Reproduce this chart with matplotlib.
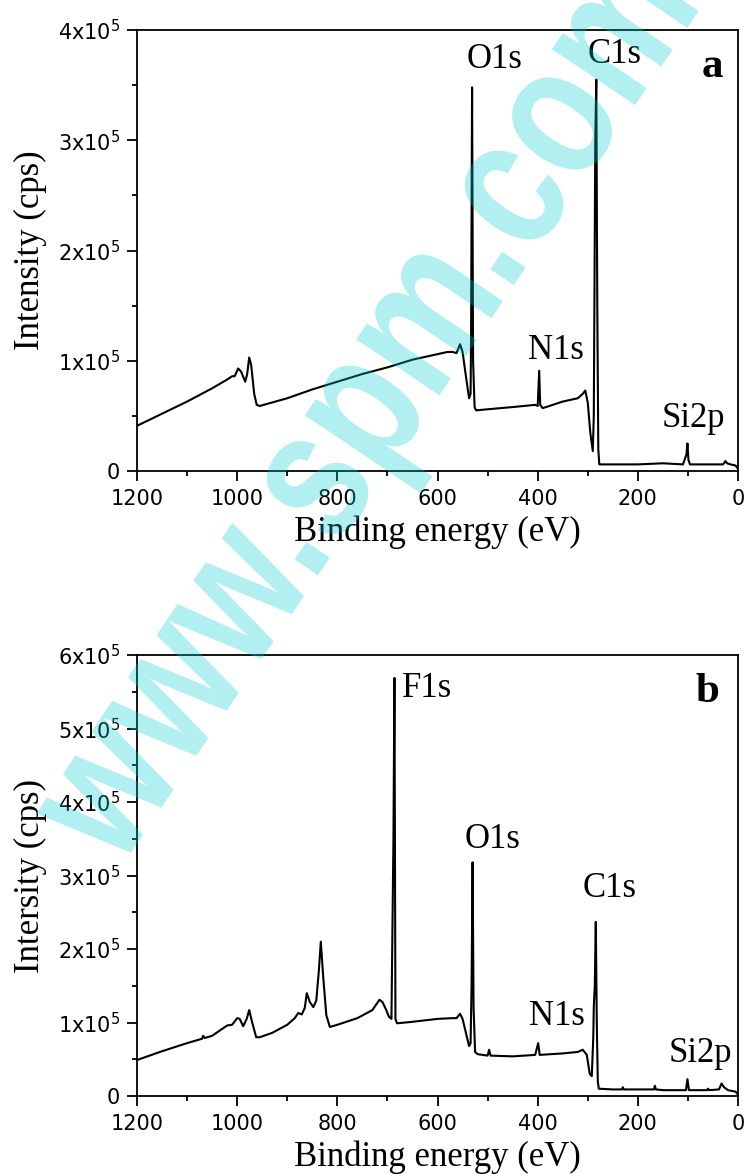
import numpy as np
import matplotlib
matplotlib.use('Agg')
import matplotlib.pyplot as plt
import matplotlib.transforms as mtransforms
from matplotlib.ticker import MultipleLocator, FuncFormatter
from matplotlib.textpath import TextPath, TextToPath
from matplotlib.patches import PathPatch
from matplotlib.font_manager import FontProperties

# survey spectrum (a): binding energy (eV) and intensity (x1e5 cps)
energy_a = [1200, 1150, 1100, 1050, 1020, 1010, 1005, 998, 992, 984, 980, 976, 972, 966, 961, 955,
            900, 850, 800, 750, 700, 650, 600, 580, 570, 562, 555, 550, 543, 537, 534, 533, 531,
            529, 526, 523, 500, 450, 405, 400, 397, 395, 390, 350, 320, 310, 305, 300, 295, 290,
            288, 285, 283, 281, 279, 277, 250, 200, 150, 110, 103, 101, 99, 96, 60, 30, 25, 22,
            15, 5, 0]
inten_a = [0.41, 0.52, 0.63, 0.75, 0.83, 0.86, 0.86, 0.93, 0.90, 0.81, 0.88, 1.03, 0.96, 0.70, 0.60,
           0.59, 0.66, 0.74, 0.81, 0.88, 0.94, 1.01, 1.06, 1.08, 1.08, 1.07, 1.15, 1.08, 0.85, 0.66,
           0.70, 1.20, 3.48, 1.00, 0.58, 0.55, 0.56, 0.58, 0.60, 0.59, 0.91, 0.60, 0.57, 0.63, 0.66,
           0.70, 0.73, 0.62, 0.35, 0.18, 0.50, 3.00, 3.55, 1.50, 0.20, 0.06, 0.06, 0.06, 0.07, 0.06,
           0.15, 0.25, 0.10, 0.06, 0.06, 0.06, 0.09, 0.07, 0.06, 0.05, 0.02]

# survey spectrum (b)
energy_b = [1200, 1150, 1100, 1070, 1068, 1065, 1050, 1020, 1010, 1000, 995, 988, 981, 976, 970,
            962, 955, 930, 900, 885, 878, 871, 865, 861, 855, 848, 842, 837, 833, 828, 822, 815,
            800, 760, 730, 722, 716, 710, 703, 697, 692, 688, 686, 684, 681, 650, 600, 570, 562,
            555, 550, 543, 537, 534, 532, 530, 528, 525, 520, 500, 497, 494, 450, 405, 399, 396,
            350, 320, 310, 302, 296, 292, 289, 288, 286, 284, 282, 280, 278, 250, 232, 230, 228,
            168, 166, 164, 150, 104, 101, 98, 62, 60, 58, 38, 33, 28, 20, 5, 0]
inten_b = [0.49, 0.61, 0.72, 0.78, 0.82, 0.79, 0.82, 0.96, 0.97, 1.06, 1.05, 0.95, 1.05, 1.17, 1.00,
           0.80, 0.80, 0.86, 0.97, 1.06, 1.13, 1.11, 1.20, 1.40, 1.28, 1.21, 1.30, 1.70, 2.10, 1.60,
           1.10, 0.94, 0.97, 1.06, 1.17, 1.25, 1.31, 1.28, 1.18, 1.08, 1.05, 3.5, 5.69, 1.05, 0.99,
           1.01, 1.05, 1.06, 1.06, 1.12, 1.05, 0.85, 0.68, 0.72, 1.50, 3.18, 1.20, 0.60, 0.57, 0.55,
           0.63, 0.55, 0.54, 0.56, 0.72, 0.56, 0.58, 0.60, 0.63, 0.56, 0.30, 0.27, 0.80, 1.21, 1.50,
           2.37, 1.00, 0.20, 0.10, 0.09, 0.09, 0.12, 0.09, 0.09, 0.14, 0.09, 0.08, 0.08, 0.23, 0.08,
           0.08, 0.10, 0.08, 0.09, 0.17, 0.12, 0.08, 0.06, 0.02]

# peak labels: text, energy, intensity (x1e5), alignment
labels_a = [('O1s', 487, 3.66, 'center'), ('C1s', 246, 3.70, 'center'),
            ('N1s', 363, 1.02, 'center'), ('Si2p', 90, 0.40, 'center')]
labels_b = [('F1s', 671, 5.43, 'left'), ('O1s', 491, 3.37, 'center'), ('C1s', 256, 2.71, 'center'),
            ('N1s', 361, 0.97, 'center'), ('Si2p', 76, 0.46, 'center')]

watermark = 'www.spm.com.cn'

plt.rcParams['mathtext.fontset'] = 'custom'
plt.rcParams['mathtext.rm'] = 'DejaVu Sans'
plt.rcParams['mathtext.it'] = 'DejaVu Sans'

serif = 'Liberation Serif'


def sci(v, pos):
    n = int(round(v / 1e5))
    if n == 0:
        return '0'
    return '%dx10$^{5}$' % n


fig = plt.figure(figsize=(7.47, 11.74), dpi=100)

panels = [
    (0.5988, energy_a, inten_a, 4e5, labels_a, 'a', (52, 3.57), 'Intensity (cps)'),
    (0.0664, energy_b, inten_b, 6e5, labels_b, 'b', (62, 5.36), 'Intersity (cps)'),
]

for bottom, en, it, ymax, labs, letter, letter_pos, ylab in panels:
    ax = fig.add_axes([0.1834, bottom, 0.8046, 0.3756])
    ax.plot(en, np.array(it) * 1e5, color='black', lw=1.5)
    ax.set_xlim(1200, 0)
    ax.set_ylim(0, ymax)
    ax.xaxis.set_major_locator(MultipleLocator(200))
    ax.xaxis.set_minor_locator(MultipleLocator(100))
    ax.yaxis.set_major_locator(MultipleLocator(1e5))
    ax.yaxis.set_minor_locator(MultipleLocator(0.5e5))
    ax.yaxis.set_major_formatter(FuncFormatter(sci))
    ax.tick_params(which='major', direction='out', length=7, width=1.3, labelsize=15, pad=5)
    ax.tick_params(which='minor', direction='out', length=3.6, width=1.3)
    ax.tick_params(axis='x', which='major', pad=6)
    for s in ax.spines.values():
        s.set_linewidth(1.3)
    ax.set_xlabel('Binding energy (eV)', fontsize=25, family=serif)
    ax.set_ylabel(ylab, fontsize=25, family=serif)
    ax.xaxis.set_label_coords(0.5, -0.10)
    ax.yaxis.set_label_coords(-0.15, 0.5)
    for txt, ex, ey, ha in labs:
        ax.text(ex, ey * 1e5, txt, fontsize=25, family=serif, ha=ha, va='baseline')
    ax.text(letter_pos[0], letter_pos[1] * 1e5, letter, fontsize=31, family=serif,
            fontweight='bold', ha='center', va='baseline')

# watermark: tall, tightly set letters running diagonally over both panels
fp = FontProperties(family='Liberation Sans', weight='bold', size=100)
ttp = TextToPath()


def adv(t):
    return ttp.get_text_width_height_descent(t, fp, ismath=False)[0] / 100.0


s_mid = adv('www.') + adv('s') / 2
em_along, em_perp, angle = 150, 190, 56
tp = TextPath((0, 0), watermark, size=1, prop=fp)
tr = (mtransforms.Affine2D().translate(-s_mid, -0.26).scale(em_along, em_perp)
      .rotate_deg(angle).translate(318, 1174 - 487))
wm = PathPatch(tp, transform=tr, facecolor=(0.0, 0.8, 0.82), edgecolor='none', alpha=0.3,
               zorder=10)
fig.add_artist(wm)

fig.savefig('out.png', dpi=100)
